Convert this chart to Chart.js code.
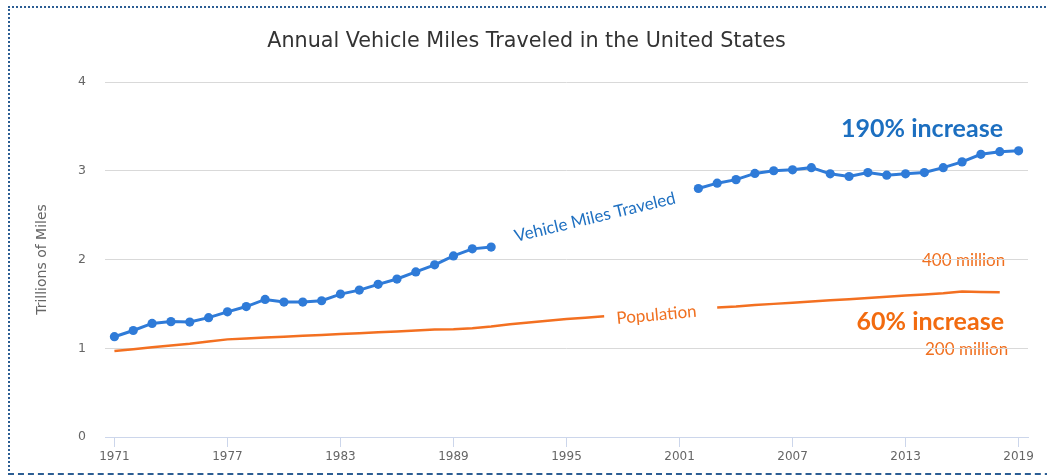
<!DOCTYPE html>
<html><head><meta charset="utf-8">
<script src="https://cdn.jsdelivr.net/npm/chart.js@4.4.1/dist/chart.umd.min.js"></script>
<style>
html,body{margin:0;padding:0;background:#fff;overflow:hidden;width:1047px;height:475px;}
#wrap{position:relative;width:1047px;height:475px;overflow:hidden;}
#frame{position:absolute;left:8px;top:6px;width:1300px;height:465px;border-top:2px dotted #2c5d93;border-left:2px dotted #2c5d93;border-bottom:2px dashed #2c5d93;border-right:none;pointer-events:none;}
canvas{position:absolute;left:0;top:0;}
</style></head>
<body><div id="wrap"><canvas id="c" width="1047" height="475"></canvas><div id="frame"></div></div>
<script>
const titleText = 'Annual Vehicle Miles Traveled in the United States';
const yAxisTitle = 'Trillions of Miles';
const years = ['1971','1972','1973','1974','1975','1976','1977','1978','1979','1980',
  '1981','1982','1983','1984','1985','1986','1987','1988','1989','1990',
  '1991','1992','1993','1994','1995','1996','1997','1998','1999','2000',
  '2001','2002','2003','2004','2005','2006','2007','2008','2009','2010',
  '2011','2012','2013','2014','2015','2016','2017','2018','2019'];
const vehicleMiles = [1.13,1.20,1.28,1.30,1.295,1.345,1.41,1.47,1.55,1.52,
  1.52,1.535,1.61,1.655,1.72,1.78,1.86,1.94,2.04,2.12,
  2.14,null,null,null,null,null,null,null,null,null,
  null,2.80,2.86,2.90,2.97,3.00,3.01,3.035,2.965,2.935,
  2.98,2.95,2.965,2.98,3.035,3.10,3.185,3.215,3.225];
const population = [0.97,0.99,1.01,1.03,1.05,1.075,1.10,1.11,1.12,1.13,
  1.14,1.15,1.16,1.17,1.18,1.19,1.20,1.21,1.215,1.225,
  1.245,1.27,1.29,1.31,1.33,1.345,1.36,null,null,null,
  null,null,1.46,1.47,1.487,1.50,1.513,1.527,1.54,1.553,
  1.567,1.58,1.594,1.607,1.62,1.64,1.635,1.63,null];
const yMin = 0, yMax = 4, yStep = 1;
const labelEvery = 6;

const blue = '#2f7bd8', orange = '#f37021';

const annotations = {
  id: 'annotations',
  beforeDraw(chart) {
    const ctx = chart.ctx;
    ctx.save();
    ctx.textBaseline = 'alphabetic';
    // title
    ctx.fillStyle = '#333333';
    ctx.font = '20.7px "DejaVu Sans"';
    ctx.textAlign = 'center';
    ctx.fillText(titleText, 526.5, 47);
    // right-hand notes
    ctx.textAlign = 'right';
    ctx.fillStyle = '#1c6fc0';
    ctx.font = 'bold 25px Lato';
    ctx.fillText('190% increase', 1003, 137);
    ctx.fillStyle = '#f26b0f';
    ctx.fillText('60% increase', 1004, 330);
    ctx.textAlign = 'left';
    ctx.fillStyle = '#f07020';
    ctx.font = '17px Lato';
    ctx.fillText('400 million', 922, 266);
    ctx.fillText('200 million', 925, 355);
    // rotated series labels
    ctx.save();
    ctx.translate(516, 242);
    ctx.rotate(-13.6 * Math.PI / 180);
    ctx.fillStyle = '#1f70c1';
    ctx.fillText('Vehicle Miles Traveled', 0, 0);
    ctx.restore();
    ctx.save();
    ctx.translate(617, 324);
    ctx.rotate(-5.2 * Math.PI / 180);
    ctx.fillStyle = '#f07020';
    ctx.fillText('Population', 0, 0);
    ctx.restore();
    ctx.restore();
  }
};

new Chart(document.getElementById('c'), {
  type: 'line',
  data: {
    labels: years,
    datasets: [
      { label: 'Population', data: population, borderColor: orange, backgroundColor: orange,
        borderWidth: 2.5, pointRadius: 0, tension: 0, spanGaps: false },
      { label: 'Vehicle Miles Traveled', data: vehicleMiles, borderColor: blue, backgroundColor: blue,
        borderWidth: 3, pointRadius: 4.6, pointBorderWidth: 0, pointBackgroundColor: blue,
        tension: 0, spanGaps: false }
    ]
  },
  options: {
    responsive: false,
    animation: false,
    events: [],
    layout: { padding: { top: 82, right: 19, left: 0, bottom: 0 } },
    plugins: { legend: { display: false }, tooltip: { enabled: false }, title: { display: false } },
    scales: {
      x: {
        type: 'category',
        offset: true,
        afterFit: s => { s.height = 38; },
        border: { display: true, color: '#ccd6eb', width: 1 },
        grid: {
          drawOnChartArea: false, drawTicks: true, tickLength: 10,
          color: c => (c.index % labelEvery === 0 ? '#ccd6eb' : 'rgba(0,0,0,0)')
        },
        ticks: {
          autoSkip: false, maxRotation: 0, minRotation: 0, padding: 3,
          color: '#666666', font: { family: 'DejaVu Sans', size: 12 },
          callback: (v, i) => (i % labelEvery === 0 ? years[i] : '')
        }
      },
      y: {
        min: yMin, max: yMax,
        afterFit: s => { s.width = 105; },
        border: { display: false },
        grid: { color: '#d9d9d9', drawTicks: false, lineWidth: 1 },
        ticks: { stepSize: yStep, padding: 19, color: '#666666', font: { family: 'DejaVu Sans', size: 12.5 } },
        title: { display: true, text: yAxisTitle, color: '#666666',
          font: { family: 'DejaVu Sans', size: 14 }, padding: { top: 34, bottom: 0 } }
      }
    }
  },
  plugins: [annotations]
});
</script>
</body></html>
